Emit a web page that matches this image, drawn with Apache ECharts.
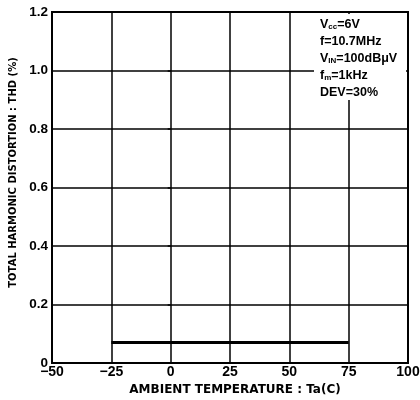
<!DOCTYPE html>
<html lang="en">
    <head>
        <meta charset="UTF-8">
        <title>THD vs Ambient Temperature</title>
        <style>
            *{
                margin: 0;
                padding: 0;
            }
            body{
                background: #fff;
            }
            #chart{
                width: 420px;
                height: 400px;
            }
        </style>
        <script src="https://cdn.jsdelivr.net/npm/echarts@6/dist/echarts.min.js"></script>
    </head>
    <body>
        <div id="chart"></div>
        <script>
            // data
            var temps = [-25, 75];
            var thd = [0.07, 0.07];
            var yTickLabels = ['0', '0.2', '0.4', '0.6', '0.8', '1.0', '1.2'];
            var conditions = ['Vcc=6V', 'f=10.7MHz', 'VIN=100dBμV', 'fm=1kHz', 'DEV=30%'];

            var font = 'Liberation Sans';
            var nameFont = 'DejaVu Sans';
            var chart = echarts.init(document.getElementById('chart'));

            // condition lines with subscripts
            function condText(s) {
                if (s.indexOf('Vcc') === 0) return 'V{s|cc}' + s.slice(3);
                if (s.indexOf('VIN') === 0) return 'V{s|IN}' + s.slice(3);
                if (s.indexOf('fm') === 0) return 'f{s|m}' + s.slice(2);
                return s;
            }

            var option = {
                animation: false,
                grid: {
                    left: 52,
                    right: 12,
                    top: 12,
                    bottom: 37,
                    containLabel: false,
                    outerBoundsMode: 'none',
                    show: true,
                    borderColor: '#000',
                    borderWidth: 2
                },
                xAxis: {
                    type: 'value',
                    min: -50,
                    max: 100,
                    interval: 25,
                    name: 'AMBIENT TEMPERATURE : Ta(C)',
                    nameLocation: 'middle',
                    nameGap: 13,
                    nameTextStyle: {
                        color: '#000',
                        fontFamily: nameFont,
                        fontWeight: 'bold',
                        fontSize: 12,
                        padding: [0, 0, 0, 10]
                    },
                    axisLine: { show: false },
                    axisTick: { show: false },
                    axisLabel: {
                        color: '#000',
                        fontFamily: font,
                        fontWeight: 'bold',
                        fontSize: 14,
                        margin: 2,
                        formatter: function (v) {
                            return v < 0 ? '\u2212' + Math.abs(v) : String(v);
                        }
                    },
                    splitLine: {
                        show: true,
                        lineStyle: { color: '#000', width: 1.5 }
                    }
                },
                yAxis: {
                    type: 'value',
                    min: 0,
                    max: 1.2,
                    interval: 0.2,
                    name: 'TOTAL HARMONIC DISTORTION : THD (%)',
                    nameLocation: 'middle',
                    nameGap: 29,
                    nameTextStyle: {
                        color: '#000',
                        fontFamily: nameFont,
                        fontWeight: 'bold',
                        fontSize: 10,
                        padding: [0, 0, 0, 30]
                    },
                    axisLine: { show: false },
                    axisTick: {
                        show: true,
                        inside: false,
                        length: 3,
                        lineStyle: { color: '#000', width: 1.5 }
                    },
                    axisLabel: {
                        color: '#000',
                        fontFamily: font,
                        fontWeight: 'bold',
                        fontSize: 13.5,
                        margin: 4,
                        formatter: function (v) {
                            return yTickLabels[Math.round(v / 0.2)];
                        }
                    },
                    splitLine: {
                        show: true,
                        lineStyle: { color: '#000', width: 1.5 }
                    }
                },
                graphic: [{
                    type: 'rect',
                    z: 100,
                    shape: { x: 314, y: 14, width: 92, height: 86 },
                    style: { fill: '#fff' }
                }].concat(conditions.map(function (c, i) {
                    return {
                        type: 'text',
                        z: 101,
                        left: 320,
                        top: 18 + i * 17,
                        style: {
                            text: condText(c),
                            fill: '#000',
                            font: 'bold 12.5px "' + font + '"',
                            rich: {
                                s: {
                                    fontSize: 8,
                                    fontWeight: 'bold',
                                    fontFamily: font,
                                    fill: '#000',
                                    padding: [5, 0, 0, 0]
                                }
                            }
                        }
                    };
                })),
                series: [{
                    type: 'line',
                    showSymbol: false,
                    data: temps.map(function (t, i) { return [t, thd[i]]; }),
                    lineStyle: { color: '#000', width: 3 },
                    z: 5
                }]
            };
            chart.setOption(option);
        </script>
    </body>
</html>
